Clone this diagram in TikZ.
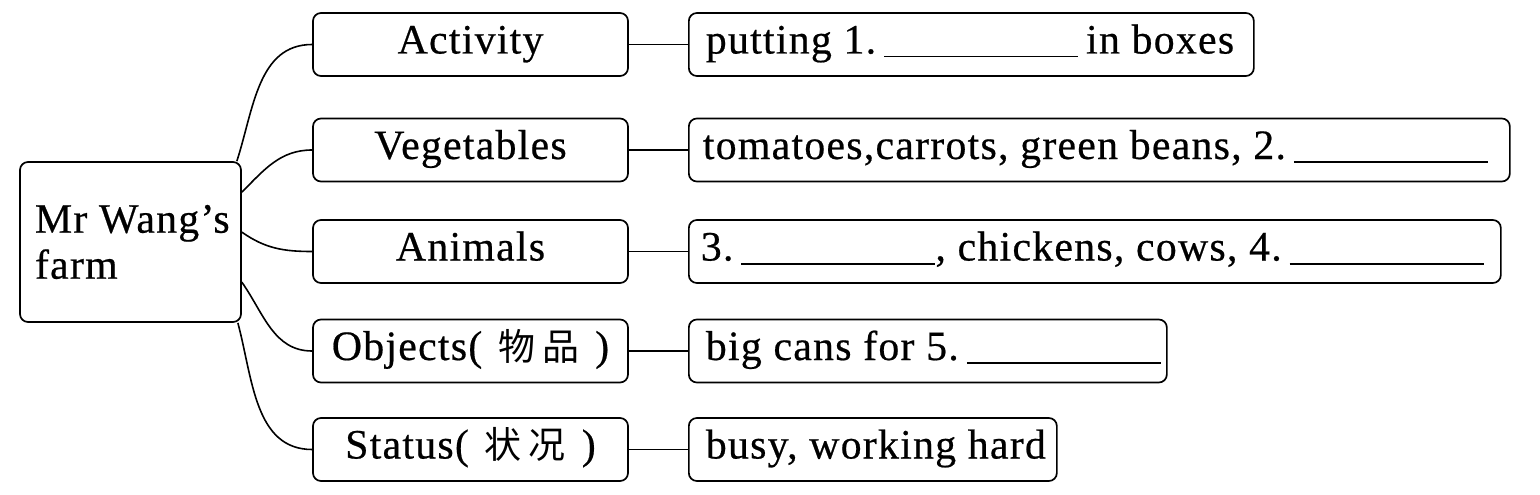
\documentclass[tikz,border=0pt]{standalone}
\usepackage{fontspec}
\setmainfont{Liberation Serif}[LetterSpace=3,FakeBold=0.5]
\newfontfamily\cjk{Noto Sans CJK SC}
\newcommand{\blankline}{\rule[-4pt]{194pt}{1.8pt}}
\newcommand{\ansfill}[2]{\makebox[#1][l]{#2}}
\begin{document}
\begin{tikzpicture}[x=1pt,y=1pt,
  box/.style={draw, line width=1.7pt, rounded corners=8pt, inner sep=0pt,
    font=\fontsize{41.8}{46}\selectfont},
  midbox/.style={box, minimum width=315pt, minimum height=63pt,
    text height=28pt, text depth=10pt},
  ansbox/.style={box, anchor=west, minimum height=63pt, inner xsep=17pt,
    text height=28pt, text depth=10pt},
  link/.style={line width=1.6pt}]
\useasboundingbox (0,0) rectangle (1540,-495);

% main node
\node[box, minimum width=221pt, minimum height=160pt, inner xsep=15pt, align=left]
  (main) at (130.5,-242) {\ansfill{191pt}{Mr Wang’s}\\\ansfill{191pt}{farm}};

% middle column
\node[midbox] (act) at (470.5,-44.5) {Activity};
\node[midbox] (veg) at (470.5,-150) {Vegetables};
\node[midbox] (ani) at (470.5,-251.5) {Animals};
\node[midbox] (obj) at (470.5,-351) {Objects(\hspace{16pt}{\cjk\fontsize{37}{40}\selectfont 物\hspace{7pt}品}\hspace{16pt})};
\node[midbox] (sta) at (470.5,-449.5) {Status(\hspace{16pt}{\cjk\fontsize{37}{40}\selectfont 状\hspace{7pt}况}\hspace{16pt})};

% answer column
\node[ansbox] (r1) at (688,-44.5) {\ansfill{531pt}{putting 1.\hspace{8pt}\blankline\hspace{8pt}in boxes}};
\node[ansbox] (r2) at (688,-150) {\ansfill{787pt}{\hspace{-3pt}tomatoes,carrots, green beans, 2.\hspace{8pt}\blankline}};
\node[ansbox] (r3) at (688,-251.5) {\ansfill{778pt}{\hspace{-5pt}3.\hspace{8pt}\blankline, chickens, cows, 4.\hspace{8pt}\blankline}};
\node[ansbox] (r4) at (688,-351) {\ansfill{444pt}{big cans for 5.\hspace{8pt}\blankline}};
\node[ansbox] (r5) at (688,-449.5) {\ansfill{334pt}{busy, working hard}};

% curved branches
\draw[link] ([xshift=-5pt]main.north east) to[out=72,in=180] (act.west);
\draw[link] ([yshift=-31pt]main.north east) to[out=45,in=180] (veg.west);
\draw[link] ([yshift=-71pt]main.north east) to[out=-35,in=180] (ani.west);
\draw[link] ([yshift=-121pt]main.north east) to[out=-55,in=180] (obj.west);
\draw[link] ([xshift=-4pt]main.south east) to[out=-75,in=180] (sta.west);

% straight links
\draw[link] (act.east) -- (r1.west);
\draw[link] (veg.east) -- (r2.west);
\draw[link] (ani.east) -- (r3.west);
\draw[link] (obj.east) -- (r4.west);
\draw[link] (sta.east) -- (r5.west);
\end{tikzpicture}
\end{document}
